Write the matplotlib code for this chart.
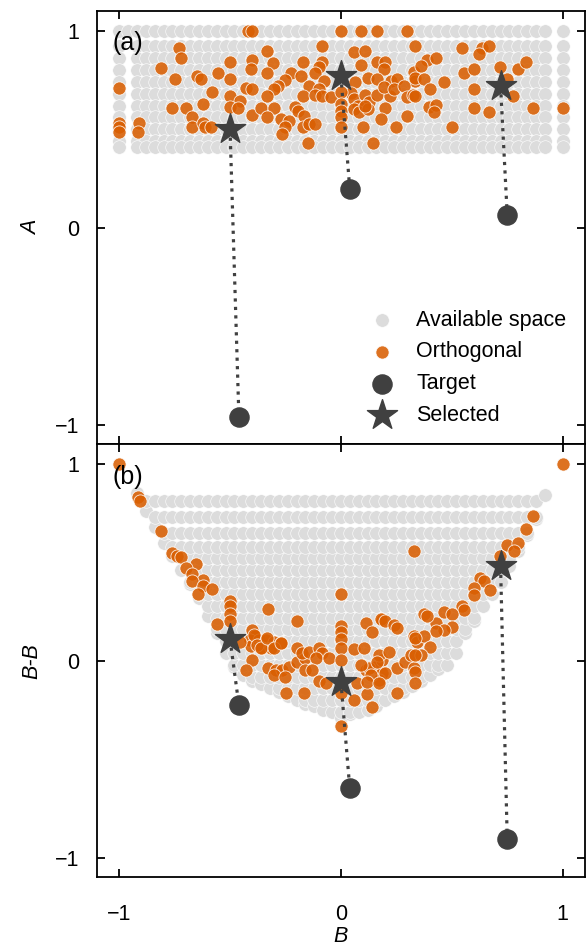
import numpy as np
import matplotlib
matplotlib.use("Agg")
import matplotlib.pyplot as plt

plt.rcParams['font.family'] = ['Liberation Sans', 'DejaVu Sans']
plt.rcParams['font.size'] = 15.5

GRAY = '#dcdcdc'
ORANGE = '#d95f02'
DARK = '#404040'

# available space, panel (a): columns of B and rows of A
grid_b = [-0.92, -0.88, -0.84, -0.80, -0.76, -0.72, -0.68, -0.64, -0.60, -0.56,
          -0.52, -0.48, -0.44, -0.40, -0.36, -0.32, -0.28, -0.24, -0.20, -0.16,
          -0.12, -0.08, -0.04, 0.00, 0.04, 0.08, 0.12, 0.16, 0.20, 0.24,
          0.28, 0.32, 0.36, 0.40, 0.44, 0.48, 0.52, 0.56, 0.60, 0.64,
          0.68, 0.72, 0.76, 0.80, 0.84, 0.88, 0.92]
grid_a = [0.92, 0.86, 0.80, 0.74, 0.68, 0.62, 0.56, 0.50, 0.44, 0.41]
top_row_b = [-1.0, -0.96] + grid_b + [1.0]
edge_b = [-1.0, 1.0]

# available space, panel (b): lowest and highest B-B per column of grid_b
bb_low = [0.85, 0.76, 0.68, 0.60, 0.53, 0.46, 0.39, 0.32, 0.23, 0.14,
          0.04, -0.03, -0.07, -0.10, -0.12, -0.14, -0.16, -0.18, -0.20, -0.22,
          -0.23, -0.25, -0.26, -0.29, -0.27, -0.26, -0.25, -0.23, -0.20, -0.18,
          -0.16, -0.13, -0.10, -0.07, -0.04, -0.02, 0.04, 0.14, 0.20, 0.28,
          0.34, 0.40, 0.48, 0.56, 0.64, 0.72, 0.84]
bb_high = [0.86, 0.83, 0.81, 0.81, 0.81, 0.81, 0.81, 0.81, 0.81, 0.81,
           0.81, 0.81, 0.81, 0.81, 0.81, 0.81, 0.81, 0.81, 0.81, 0.81,
           0.81, 0.81, 0.81, 0.81, 0.81, 0.81, 0.81, 0.81, 0.81, 0.81,
           0.81, 0.81, 0.81, 0.81, 0.81, 0.81, 0.81, 0.81, 0.81, 0.81,
           0.81, 0.81, 0.81, 0.81, 0.81, 0.83, 0.87]
bb_rows = [-0.26, -0.20, -0.14, -0.08, -0.02, 0.04, 0.10, 0.16, 0.22, 0.28,
           0.34, 0.40, 0.46, 0.52, 0.58, 0.65, 0.73, 0.81]

# orthogonal candidates (B, A)
orth_a = [(-0.42, 1.0), (-0.40, 1.0), (-0.73, 0.91), (-0.72, 0.86), (-0.81, 0.81),
          (-0.75, 0.755), (-0.65, 0.77), (-0.63, 0.755), (-0.555, 0.786), (-0.50, 0.84),
          (-0.50, 0.755), (-0.40, 0.85), (-0.405, 0.806), (-0.58, 0.69), (-0.50, 0.67),
          (-0.455, 0.645), (-0.43, 0.71), (-0.40, 0.705), (-0.62, 0.63), (-0.76, 0.605),
          (-0.70, 0.605), (-0.50, 0.61), (-0.465, 0.605), (-0.67, 0.56), (-0.40, 0.57),
          (-1.0, 0.71), (-1.0, 0.53), (-1.0, 0.51), (-1.0, 0.485), (-0.91, 0.53),
          (-0.915, 0.483), (-0.67, 0.51), (-0.62, 0.53), (-0.615, 0.51), (-0.585, 0.51),
          (0.0, 1.0), (0.09, 1.0), (0.165, 1.0), (0.30, 1.0), (-0.085, 0.92),
          (-0.335, 0.895), (0.06, 0.89), (0.11, 0.895), (-0.305, 0.837), (-0.17, 0.843),
          (-0.085, 0.84), (-0.10, 0.815), (0.09, 0.826), (0.165, 0.84), (0.20, 0.843),
          (0.195, 0.806), (0.33, 0.79), (0.335, 0.746), (-0.335, 0.786), (-0.225, 0.786),
          (-0.18, 0.77), (-0.115, 0.786), (-0.25, 0.75), (-0.075, 0.746), (0.065, 0.738),
          (0.12, 0.758), (0.165, 0.755), (0.225, 0.746), (0.255, 0.755), (-0.285, 0.72),
          (-0.30, 0.705), (-0.145, 0.72), (-0.10, 0.705), (-0.335, 0.67), (-0.17, 0.67),
          (-0.115, 0.673), (-0.085, 0.67), (-0.045, 0.662), (0.045, 0.684), (0.06, 0.653),
          (0.11, 0.673), (0.125, 0.636), (0.165, 0.673), (0.22, 0.67), (0.195, 0.713),
          (0.24, 0.705), (0.285, 0.72), (0.30, 0.662), (0.325, 0.673), (-0.36, 0.605),
          (-0.30, 0.605), (-0.205, 0.61), (-0.195, 0.593), (-0.335, 0.56), (0.0, 0.687),
          (0.0, 0.627), (0.0, 0.593), (0.0, 0.56), (0.075, 0.619), (0.06, 0.602),
          (0.08, 0.585), (0.12, 0.602), (0.11, 0.616), (0.20, 0.605), (0.30, 0.568),
          (-0.27, 0.55), (-0.235, 0.54), (-0.25, 0.51), (-0.265, 0.475), (-0.167, 0.568),
          (-0.17, 0.51), (-0.145, 0.525), (-0.115, 0.525), (-0.15, 0.43), (0.0, 0.51),
          (0.10, 0.51), (0.18, 0.55), (0.25, 0.51), (0.145, 0.432), (0.335, 0.92),
          (0.545, 0.91), (0.635, 0.91), (0.67, 0.92), (0.625, 0.88), (0.39, 0.853),
          (0.43, 0.86), (0.36, 0.823), (0.555, 0.786), (0.60, 0.806), (0.716, 0.815),
          (0.80, 0.806), (0.836, 0.84), (0.335, 0.758), (0.375, 0.755), (0.467, 0.738),
          (0.40, 0.705), (0.60, 0.705), (0.75, 0.755), (0.776, 0.67), (0.335, 0.67),
          (0.396, 0.61), (0.43, 0.622), (0.42, 0.585), (0.60, 0.605), (0.67, 0.585),
          (0.866, 0.605), (1.0, 0.605), (0.50, 0.51)]

# orthogonal candidates (B, B-B)
orth_bb = [(-1.0, 1.0), (1.0, 1.0), (-0.915, 0.833), (-0.905, 0.813), (-0.81, 0.657),
           (-0.76, 0.55), (-0.74, 0.532), (-0.72, 0.527), (-0.653, 0.493), (-0.70, 0.47),
           (-0.67, 0.44), (-0.62, 0.41), (-0.67, 0.405), (-0.62, 0.38), (-0.58, 0.367),
           (-0.645, 0.337), (-0.50, 0.306), (-0.50, 0.277), (-0.50, 0.238), (-0.50, 0.20),
           (-0.56, 0.187), (-0.40, 0.158), (-0.386, 0.124), (-0.41, 0.107), (-0.405, 0.073),
           (-0.368, 0.068), (-0.40, 0.005), (-0.43, -0.046), (-0.455, 0.095), (-0.33, 0.264),
           (-0.20, 0.20), (-0.37, 0.107), (-0.34, 0.107), (-0.30, 0.098), (-0.27, 0.093),
           (-0.355, 0.065), (-0.317, 0.065), (-0.33, -0.037), (-0.294, -0.046), (-0.264, -0.046),
           (-0.234, -0.029), (-0.197, -0.004), (-0.16, 0.014), (-0.30, -0.07), (-0.25, -0.083),
           (-0.246, -0.165), (-0.167, -0.165), (-0.197, 0.065), (-0.174, 0.039), (-0.144, 0.047),
           (-0.10, 0.065), (-0.084, 0.039), (-0.114, 0.014), (-0.054, 0.014), (-0.16, -0.046),
           (-0.13, -0.046), (-0.10, -0.10), (-0.069, -0.114), (0.0, 0.337), (0.0, 0.175),
           (0.0, 0.145), (0.0, 0.111), (0.0, 0.065), (0.0, 0.005), (0.0, -0.165),
           (0.0, -0.332), (0.059, 0.06), (0.104, 0.065), (0.111, 0.192), (0.141, 0.145),
           (0.059, -0.199), (0.119, -0.168), (0.141, -0.233), (0.111, -0.046), (0.156, -0.029),
           (0.186, 0.005), (0.186, -0.063), (0.171, -0.097), (0.186, 0.209), (0.33, 0.558),
           (0.179, 0.214), (0.20, 0.204), (0.239, 0.18), (0.254, 0.167), (0.33, 0.124),
           (0.345, 0.098), (0.171, 0.031), (0.216, 0.044), (0.254, -0.037), (0.291, -0.004),
           (0.314, 0.031), (0.329, -0.037), (0.20, -0.063), (0.126, -0.037), (0.164, -0.004),
           (0.134, -0.071), (0.089, -0.02), (0.074, -0.114), (0.119, -0.105), (0.171, -0.114),
           (0.254, -0.165), (-0.39, 0.133), (-0.377, 0.082), (-0.362, 0.065), (-0.332, 0.116),
           (-0.302, 0.065), (-0.272, 0.090), (0.866, 0.736), (0.836, 0.668), (0.75, 0.588),
           (0.80, 0.60), (0.78, 0.558), (0.716, 0.532), (0.626, 0.422), (0.644, 0.405),
           (0.671, 0.362), (0.599, 0.371), (0.599, 0.333), (0.547, 0.277), (0.557, 0.26),
           (0.467, 0.248), (0.50, 0.238), (0.431, 0.192), (0.374, 0.238), (0.389, 0.226),
           (0.50, 0.17), (0.464, 0.158), (0.427, 0.150), (0.374, 0.124), (0.336, 0.116),
           (0.40, 0.068), (0.359, 0.031), (0.336, 0.031), (0.336, -0.055), (0.336, -0.114)]

# selected points and their targets
sel_b = [-0.50, 0.00, 0.72]
sel_a = [0.50, 0.77, 0.72]
sel_bb = [0.11, -0.105, 0.48]
tgt_b = [-0.46, 0.04, 0.75]
tgt_a = [-0.96, 0.195, 0.066]
tgt_bb = [-0.225, -0.648, -0.903]

# build the gray point clouds
gb, ga = np.meshgrid(grid_b, grid_a)
avail_b = list(gb.ravel()) + top_row_b + [x for x in edge_b for _ in grid_a]
avail_a = list(ga.ravel()) + [1.0] * len(top_row_b) + grid_a * len(edge_b)

avail2_b = []
avail2_bb = []
for b, lo, hi in zip(grid_b, bb_low, bb_high):
    ys = [lo] + [r for r in bb_rows if lo < r <= hi]
    avail2_b += [b] * len(ys)
    avail2_bb += ys

orth_a = np.array(orth_a)
orth_bb = np.array(orth_bb)

fig, (ax1, ax2) = plt.subplots(2, 1, figsize=(5.86, 9.48), dpi=100, sharex=True)
fig.subplots_adjust(left=0.1655, right=0.998, top=0.9884, bottom=0.0744, hspace=0)

panels = [(ax1, sel_a, tgt_a, avail_a, orth_a, '(a)'),
          (ax2, sel_bb, tgt_bb, avail2_bb, orth_bb, '(b)')]
for ax, sel_y, tgt_y, av_y, orth, tag in panels:
    if ax is ax1:
        av_x = avail_b
    else:
        av_x = avail2_b
    ax.scatter(av_x, av_y, s=95, color=GRAY, edgecolor='white', linewidth=0.4,
               zorder=1, label='Available space')
    ax.scatter(orth[:, 0], orth[:, 1], s=90, color=ORANGE, alpha=0.88,
               edgecolor='white', linewidth=0.6, zorder=2, label='Orthogonal')
    for i in range(len(sel_b)):
        ax.plot([sel_b[i], tgt_b[i]], [sel_y[i], tgt_y[i]], ':', color=DARK,
                lw=2.3, zorder=3)
    ax.scatter(tgt_b, tgt_y, s=190, color=DARK, zorder=4, label='Target')
    ax.scatter(sel_b, sel_y, s=520, marker='*', color=DARK, zorder=5,
               label='Selected')
    ax.text(0.031, 0.925, tag, transform=ax.transAxes, ha='left', va='center',
            fontsize=18, zorder=6)

    ax.set_xlim(-1.1, 1.1)
    ax.set_ylim(-1.1, 1.1)
    ax.set_xticks([-1, 0, 1])
    ax.set_yticks([-1, 0, 1])
    ax.tick_params(direction='in', top=True, right=True, length=6, width=1.3,
                   labelsize=15.5)
    ax.tick_params(axis='y', pad=13)
    ax.tick_params(axis='x', pad=19)
    for sp in ax.spines.values():
        sp.set_linewidth(1.3)

ax1.set_ylabel('A', style='italic', fontsize=15.5)
ax2.set_ylabel('B-B', style='italic', fontsize=15.5)
ax2.set_xlabel('B', style='italic', fontsize=15.5)
ax1.yaxis.set_label_coords(-0.113, 0.5)
ax2.yaxis.set_label_coords(-0.113, 0.5)
ax2.xaxis.set_label_coords(0.5, -0.112)

ax1.legend(loc='lower right', frameon=False, scatterpoints=1, fontsize=15.5,
           handletextpad=0.6, borderaxespad=0.45)

fig.savefig('out.png', dpi=100)
